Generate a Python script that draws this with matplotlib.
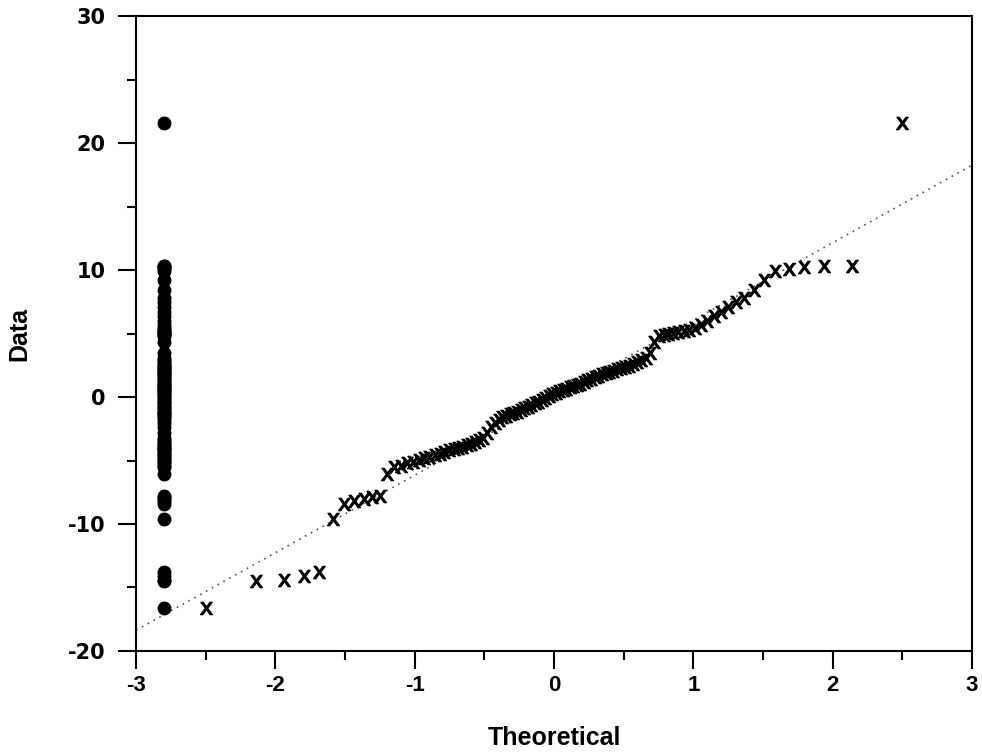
import matplotlib.pyplot as plt
import numpy as np
from statistics import NormalDist

plt.rcParams['axes.unicode_minus'] = False

# Dados ordenados
dados = [
    -16.6, -14.5, -14.4, -14.1, -13.8, -9.6, -8.4, -8.2, -8.0, -7.9,
    -7.8, -6.1, -5.55, -5.4, -5.2, -5.1, -4.95, -4.8, -4.7, -4.55,
    -4.45, -4.3, -4.2, -4.1, -4.0, -3.9, -3.8, -3.7, -3.55, -3.4,
    -3.2, -2.8, -2.4, -2.05, -1.8, -1.6, -1.5, -1.35, -1.25, -1.15,
    -1.0, -0.9, -0.75, -0.65, -0.5, -0.4, -0.2, -0.1, 0.05, 0.2,
    0.35, 0.45, 0.55, 0.65, 0.75, 0.85, 0.95, 1.05, 1.2, 1.3,
    1.4, 1.55, 1.65, 1.8, 1.9, 1.95, 2.05, 2.2, 2.25, 2.35,
    2.45, 2.6, 2.75, 2.9, 3.1, 3.5, 4.3, 4.8, 4.9, 4.95,
    5.05, 5.1, 5.2, 5.3, 5.4, 5.7, 6.0, 6.35, 6.7, 7.1,
    7.45, 7.8, 8.4, 9.2, 9.9, 10.1, 10.2, 10.3, 10.3, 21.6,
]
x_faixa = -2.8  # posição da faixa de pontos

n = len(dados)
# quantis teóricos (posições de Blom)
teorico = np.array([NormalDist().inv_cdf((i - 0.375) / (n + 0.25)) for i in range(1, n + 1)])
dados = np.array(dados)

coef = np.polyfit(teorico, dados, 1)
xl = np.array([-3, 3])

fig = plt.figure(figsize=(9.82, 7.56), dpi=100)
ax = fig.add_axes([0.1385, 0.1389, 0.8513, 0.8399])

ax.plot(xl, np.polyval(coef, xl), color='#555555', linestyle=(0, (1, 3)), linewidth=1.2, zorder=1)
ax.plot(teorico, dados, linestyle='none', marker=r'$\mathsf{x}$', markersize=9,
        color='black', markeredgewidth=0.8, zorder=3)
ax.plot(np.full(n, x_faixa), dados, linestyle='none', marker='o', markersize=9,
        color='black', zorder=3)

ax.set_xlim(-3, 3)
ax.set_ylim(-20, 30)
ax.set_xticks(np.arange(-3, 4, 1))
ax.set_xticks(np.arange(-2.5, 3, 1), minor=True)
ax.set_yticks(np.arange(-20, 31, 10))
ax.set_yticks(np.arange(-15, 30, 10), minor=True)

for s in ax.spines.values():
    s.set_linewidth(1.5)
ax.tick_params(which='major', direction='out', length=13, width=1.5)
ax.tick_params(which='minor', direction='out', length=6.5, width=1.5)
ax.tick_params(axis='y', which='major', pad=9)
ax.tick_params(axis='x', which='major', pad=4)
for lab in ax.get_yticklabels():
    lab.set_fontweight('bold')
    lab.set_family('DejaVu Sans')
    lab.set_fontsize(15)
for lab in ax.get_xticklabels():
    lab.set_fontweight('bold')
    lab.set_family(['Liberation Sans', 'DejaVu Sans'])
    lab.set_fontsize(16)

ax.set_xlabel('Theoretical', fontsize=18, fontweight='bold',
              family=['Liberation Sans', 'DejaVu Sans'], labelpad=22)
ax.set_ylabel('Data', fontsize=18, fontweight='bold',
              family=['Liberation Sans', 'DejaVu Sans'], labelpad=26)

plt.savefig('out.png', dpi=100)
